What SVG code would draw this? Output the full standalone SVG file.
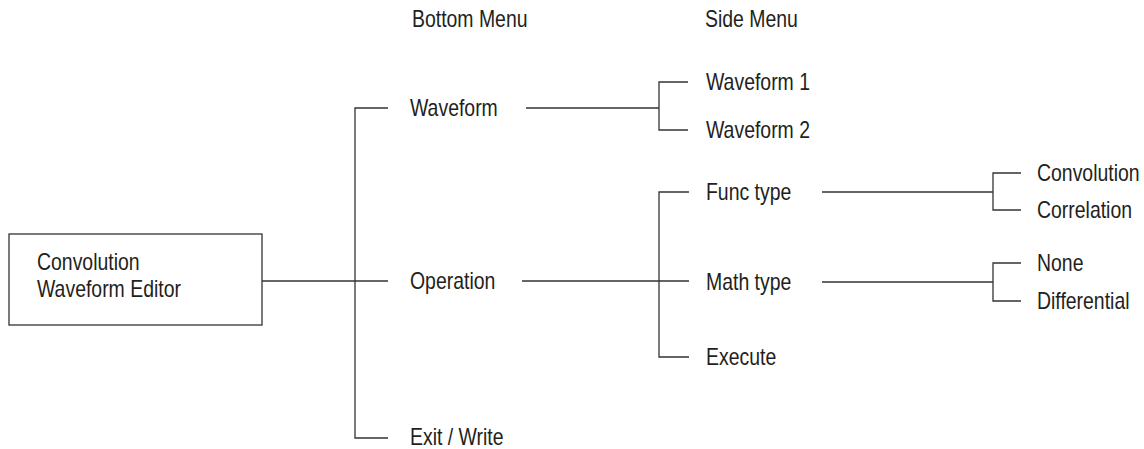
<svg xmlns="http://www.w3.org/2000/svg" width="1144" height="449" viewBox="0 0 1144 449">
<style>
text{font-family:"Liberation Sans",Arial,sans-serif;font-size:23px;fill:#231f20}
.ln{stroke:#333;stroke-width:1.3;fill:none}
.box{fill:#fff;stroke:#333;stroke-width:1.3}
</style>
<rect width="1144" height="449" fill="#fff"/>
<g id="headers">
<text transform="translate(412 27) scale(0.845 1)">Bottom Menu</text>
<text transform="translate(705 27) scale(0.845 1)">Side Menu</text>
</g>
<g id="connectors" class="ln">
<path d="M262 281H388"/>
<path d="M388 108H355V438H388"/>
<path d="M526 108H659M688 82H659V130H688"/>
<path d="M522 281H689M689 192H659V357H689"/>
<path d="M822 192H993M1021 173H993V210H1021"/>
<path d="M822 282H993M1021 263H993V301H1021"/>
</g>
<g id="editor">
<rect class="box" x="9" y="234" width="253" height="91"/>
<text transform="translate(37 270) scale(0.845 1)">Convolution</text>
<text transform="translate(37 297) scale(0.845 1)">Waveform Editor</text>
</g>
<g id="waveform"><text transform="translate(410 116) scale(0.845 1)">Waveform</text></g>
<g id="operation"><text transform="translate(410 289) scale(0.845 1)">Operation</text></g>
<g id="exit"><text transform="translate(410 445) scale(0.845 1)">Exit / Write</text></g>
<g id="waveform1"><text transform="translate(706 90) scale(0.845 1)">Waveform 1</text></g>
<g id="waveform2"><text transform="translate(706 138) scale(0.845 1)">Waveform 2</text></g>
<g id="functype"><text transform="translate(706 200) scale(0.845 1)">Func type</text></g>
<g id="mathtype"><text transform="translate(706 290) scale(0.845 1)">Math type</text></g>
<g id="execute"><text transform="translate(706 365) scale(0.845 1)">Execute</text></g>
<g id="convolution"><text transform="translate(1037 181) scale(0.845 1)">Convolution</text></g>
<g id="correlation"><text transform="translate(1037 218) scale(0.845 1)">Correlation</text></g>
<g id="none"><text transform="translate(1037 271) scale(0.845 1)">None</text></g>
<g id="differential"><text transform="translate(1037 309) scale(0.845 1)">Differential</text></g>
</svg>
